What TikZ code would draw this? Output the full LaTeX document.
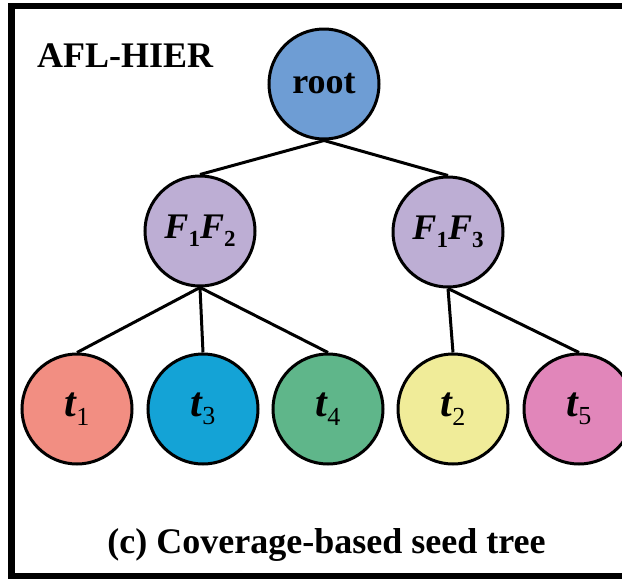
\documentclass[tikz,border=0pt]{standalone}
\usepackage{fontspec}
\setmainfont{Liberation Serif}
\definecolor{crootc}{RGB}{110,157,212}
\definecolor{cfc}{RGB}{189,174,212}
\definecolor{cta}{RGB}{242,142,130}
\definecolor{ctb}{RGB}{20,163,214}
\definecolor{ctc}{RGB}{95,182,138}
\definecolor{ctd}{RGB}{240,236,153}
\definecolor{cte}{RGB}{225,134,186}
\newcommand{\fsub}[1]{\raisebox{-0.22em}{\fontsize{23}{23}\selectfont\upshape\bfseries #1}}
\newcommand{\tsub}[1]{\raisebox{-0.2em}{\fontsize{26}{26}\selectfont\upshape\mdseries #1}}
\begin{document}
\begin{tikzpicture}[x=1pt,y=-1pt,
  treenode/.style={circle,draw=black,line width=3pt,minimum size=110pt,inner sep=0pt,font=\fontsize{36}{36}\selectfont\bfseries},
  leafnode/.style={treenode,font=\fontsize{42}{42}\selectfont\bfseries\itshape},
  edge/.style={line width=3pt,draw=black},
  lbl/.style={inner sep=0pt,font=\fontsize{36}{36}\selectfont\bfseries}]
\useasboundingbox (0,0) rectangle (622,579);
\clip (0,0) rectangle (622,579);
\draw[line width=6.5pt] (660,6) -- (11.5,6) -- (11.5,576) -- (660,576);
\node[lbl,anchor=base west] (title) at (37,67) {AFL-HIER};
\node[lbl,anchor=base] (caption) at (326.5,553) {(c) Coverage-based seed tree};
\node[treenode,fill=crootc] (root) at (324,84) {root};
\node[treenode,fill=cfc] (f12) at (200,231) {\textit{F}\fsub{1}\textit{F}\fsub{2}};
\node[treenode,fill=cfc] (f13) at (448,232) {\textit{F}\fsub{1}\textit{F}\fsub{3}};
\node[leafnode,fill=cta] (t1) at (77,409) {t\tsub{1}};
\node[leafnode,fill=ctb] (t3) at (203,409) {t\tsub{3}};
\node[leafnode,fill=ctc] (t4) at (328,409) {t\tsub{4}};
\node[leafnode,fill=ctd] (t2) at (453,409) {t\tsub{2}};
\node[leafnode,fill=cte] (t5) at (579,409) {t\tsub{5}};
\draw[edge] (root.south) -- (f12.north);
\draw[edge] (root.south) -- (f13.north);
\draw[edge] (f12.south) -- (t1.north);
\draw[edge] (f12.south) -- (t3.north);
\draw[edge] (f12.south) -- (t4.north);
\draw[edge] (f13.south) -- (t2.north);
\draw[edge] (f13.south) -- (t5.north);
\end{tikzpicture}
\end{document}
